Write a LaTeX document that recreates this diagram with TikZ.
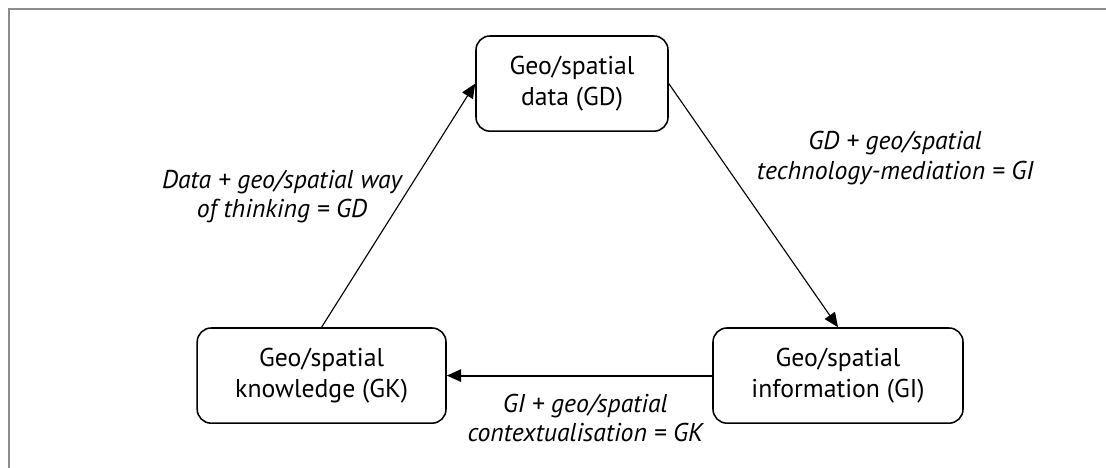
\documentclass[tikz,border=0pt]{standalone}
\usepackage{fontspec}
\setmainfont{PT Sans}
\usetikzlibrary{arrows.meta, positioning}

\begin{document}
\begin{tikzpicture}[
    box/.style={
      draw, line width=1.1pt, rounded corners=3.5mm, align=center,
      minimum height=2.38cm, inner sep=3pt,
      font=\fontsize{18.3}{21.5}\selectfont
    },
    lbl/.style={align=center, font=\fontsize{18.3}{20.8}\selectfont\itshape},
    fl/.style={-{Triangle[length=3.6mm, width=3.1mm]}, line width=0.8pt},
    hfl/.style={-{Triangle[length=3.6mm, width=3.1mm]}, line width=1.4pt},
    frm/.style={draw=black!45, line width=1.4pt}
  ]
    % --- Rahmen ---
    \useasboundingbox (0,0) rectangle (27.65,11.7);
    \draw[frm] (0.225,0) -- (0.225,11.475) -- (27.65,11.475);

    % --- Knoten ---
    \node[box, minimum width=4.8cm]  (gd) at (14.3, 9.61)  {Geo/spatial\\data (GD)};
    \node[box, minimum width=6.22cm] (gk) at (8.04, 2.31)  {Geo/spatial\\knowledge (GK)};
    \node[box, minimum width=6.25cm] (gi) at (20.95, 2.31) {Geo/spatial\\information (GI)};

    \draw[fl]  (gk.north) -- (gd.west);
    \draw[fl]  (gd.east)  -- (gi.north);
    \draw[hfl] (gi.west)  -- (gk.east);

    % --- Beschriftungen ---
    \node[lbl] (l1) at (7.05, 6.78)   {Data + geo/spatial way\\of thinking = GD};
    \node[lbl] (l2) at (22.38, 7.75)  {GD + geo/spatial\\technology-mediation = GI};
    \node[lbl] (l3) at (14.63, 1.25)  {GI + geo/spatial\\contextualisation = GK};
  \end{tikzpicture}
\end{document}
